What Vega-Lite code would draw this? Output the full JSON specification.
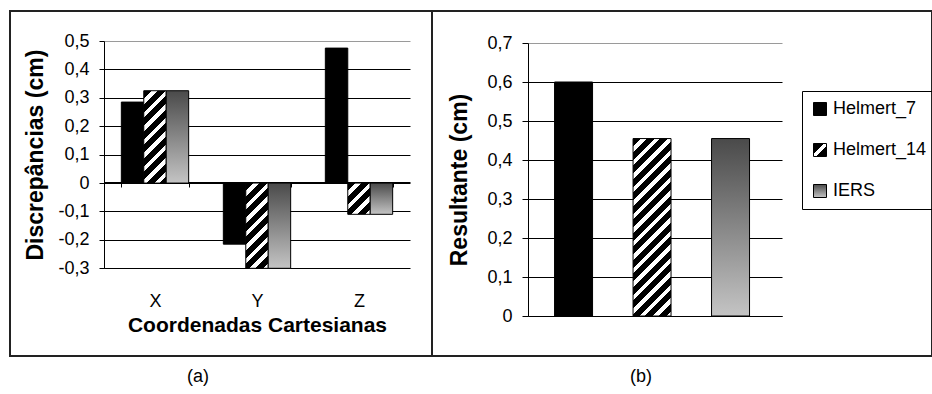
{
  "$schema": "https://vega.github.io/schema/vega-lite/v6.json",
  "background": "white",
  "padding": {"left": 9, "top": 10, "right": 0, "bottom": 0},
  "spacing": 0,
  "bounds": "flush",
  "resolve": {"scale": {"fill": "independent", "x": "independent", "y": "independent"}},
  "hconcat": [
    {
      "width": 422,
      "height": 345,
      "title": {"text": "(a)", "orient": "bottom", "anchor": "middle", "frame": "group", "dx": -23, "offset": 12, "fontSize": 18, "fontWeight": "normal", "font": "Liberation Sans", "color": "#000000"},
      "data": {"values": [
        {"coord": "X", "series": "Helmert_7", "value": 0.285},
        {"coord": "X", "series": "Helmert_14", "value": 0.325},
        {"coord": "X", "series": "IERS", "value": 0.325},
        {"coord": "Y", "series": "Helmert_7", "value": -0.215},
        {"coord": "Y", "series": "Helmert_14", "value": -0.3},
        {"coord": "Y", "series": "IERS", "value": -0.3},
        {"coord": "Z", "series": "Helmert_7", "value": 0.475},
        {"coord": "Z", "series": "Helmert_14", "value": -0.11},
        {"coord": "Z", "series": "IERS", "value": -0.11}
      ]},
      "mark": {"type": "bar", "stroke": "#000000", "strokeWidth": 1},
      "encoding": {
        "x": {"field": "coord", "type": "nominal",
          "scale": {"domain": ["X", "Y", "Z"], "range": [94, 400], "paddingInner": 0.34, "paddingOuter": 0.17},
          "axis": {"orient": "bottom", "offset": -174, "labelAngle": 0, "tickBand": "extent", "tickSize": 5, "labelPadding": 105, "labelFontSize": 18, "title": "Coordenadas Cartesianas", "titleFontSize": 21, "titlePadding": 4, "grid": false}},
        "xOffset": {"field": "series", "type": "nominal", "scale": {"domain": ["Helmert_7", "Helmert_14", "IERS"], "paddingInner": 0, "paddingOuter": 0}},
        "y": {"field": "value", "type": "quantitative",
          "scale": {"domain": [-0.3, 0.5], "range": [257.3, 30], "nice": false, "zero": false},
          "axis": {"orient": "left", "offset": -94, "values": [-0.3, -0.2, -0.1, 0, 0.1, 0.2, 0.3, 0.4, 0.5],
            "labelExpr": "datum.value == 0 ? '0' : (datum.value < 0 ? '-' : '') + replace(format(abs(datum.value), '.1f'), '.', ',')",
            "tickSize": 5, "labelPadding": 10, "minExtent": 48, "maxExtent": 48,
            "title": "Discrepâncias (cm)", "titleFontSize": 23, "titlePadding": 9, "grid": true,
            "gridColor": {"condition": {"test": "datum.value > 0.45", "value": "#9a9a9a"}, "value": "#000000"}}},
        "fill": {"field": "series", "type": "nominal",
          "scale": {"domain": ["Helmert_7", "Helmert_14", "IERS"], "range": ["#000000", "#777777", "#888888"]},
          "legend": null,
          "condition": [
            {"test": "datum.series === 'IERS'", "value": {"gradient": "linear", "x1": 0, "y1": 0, "x2": 0, "y2": 1, "stops": [{"offset": 0, "color": "#4a4a4a"}, {"offset": 1, "color": "#c4c4c4"}]}},
            {"test": "datum.series === 'Helmert_14' && datum.coord === 'X'", "value": {"gradient": "linear", "x1": 0, "y1": 0, "x2": 0.2853, "y2": 1.174, "stops": [
              {"offset": 0, "color": "#000000"}, {"offset": 0.0706, "color": "#000000"}, {"offset": 0.0706, "color": "#ffffff"}, {"offset": 0.1176, "color": "#ffffff"},
              {"offset": 0.1176, "color": "#000000"}, {"offset": 0.1882, "color": "#000000"}, {"offset": 0.1882, "color": "#ffffff"}, {"offset": 0.2353, "color": "#ffffff"},
              {"offset": 0.2353, "color": "#000000"}, {"offset": 0.3059, "color": "#000000"}, {"offset": 0.3059, "color": "#ffffff"}, {"offset": 0.3529, "color": "#ffffff"},
              {"offset": 0.3529, "color": "#000000"}, {"offset": 0.4235, "color": "#000000"}, {"offset": 0.4235, "color": "#ffffff"}, {"offset": 0.4706, "color": "#ffffff"},
              {"offset": 0.4706, "color": "#000000"}, {"offset": 0.5412, "color": "#000000"}, {"offset": 0.5412, "color": "#ffffff"}, {"offset": 0.5882, "color": "#ffffff"},
              {"offset": 0.5882, "color": "#000000"}, {"offset": 0.6588, "color": "#000000"}, {"offset": 0.6588, "color": "#ffffff"}, {"offset": 0.7059, "color": "#ffffff"},
              {"offset": 0.7059, "color": "#000000"}, {"offset": 0.7765, "color": "#000000"}, {"offset": 0.7765, "color": "#ffffff"}, {"offset": 0.8235, "color": "#ffffff"},
              {"offset": 0.8235, "color": "#000000"}, {"offset": 0.8941, "color": "#000000"}, {"offset": 0.8941, "color": "#ffffff"}, {"offset": 0.9412, "color": "#ffffff"},
              {"offset": 0.9412, "color": "#000000"}, {"offset": 1, "color": "#000000"}]}},
            {"test": "datum.series === 'Helmert_14' && datum.coord === 'Y'", "value": {"gradient": "linear", "x1": 0, "y1": 0, "x2": 0.3111, "y2": 1.1815, "stops": [
              {"offset": 0, "color": "#000000"}, {"offset": 0.0753, "color": "#000000"}, {"offset": 0.0753, "color": "#ffffff"}, {"offset": 0.1254, "color": "#ffffff"},
              {"offset": 0.1254, "color": "#000000"}, {"offset": 0.2007, "color": "#000000"}, {"offset": 0.2007, "color": "#ffffff"}, {"offset": 0.2508, "color": "#ffffff"},
              {"offset": 0.2508, "color": "#000000"}, {"offset": 0.3261, "color": "#000000"}, {"offset": 0.3261, "color": "#ffffff"}, {"offset": 0.3763, "color": "#ffffff"},
              {"offset": 0.3763, "color": "#000000"}, {"offset": 0.4515, "color": "#000000"}, {"offset": 0.4515, "color": "#ffffff"}, {"offset": 0.5017, "color": "#ffffff"},
              {"offset": 0.5017, "color": "#000000"}, {"offset": 0.5769, "color": "#000000"}, {"offset": 0.5769, "color": "#ffffff"}, {"offset": 0.6271, "color": "#ffffff"},
              {"offset": 0.6271, "color": "#000000"}, {"offset": 0.7024, "color": "#000000"}, {"offset": 0.7024, "color": "#ffffff"}, {"offset": 0.7525, "color": "#ffffff"},
              {"offset": 0.7525, "color": "#000000"}, {"offset": 0.8278, "color": "#000000"}, {"offset": 0.8278, "color": "#ffffff"}, {"offset": 0.8779, "color": "#ffffff"},
              {"offset": 0.8779, "color": "#000000"}, {"offset": 0.9532, "color": "#000000"}, {"offset": 0.9532, "color": "#ffffff"}, {"offset": 1, "color": "#ffffff"}]}},
            {"test": "datum.series === 'Helmert_14' && datum.coord === 'Z'", "value": {"gradient": "linear", "x1": 0, "y1": 0, "x2": 0.8139, "y2": 1.1336, "stops": [
              {"offset": 0, "color": "#000000"}, {"offset": 0.1509, "color": "#000000"}, {"offset": 0.1509, "color": "#ffffff"}, {"offset": 0.2514, "color": "#ffffff"},
              {"offset": 0.2514, "color": "#000000"}, {"offset": 0.4023, "color": "#000000"}, {"offset": 0.4023, "color": "#ffffff"}, {"offset": 0.5029, "color": "#ffffff"},
              {"offset": 0.5029, "color": "#000000"}, {"offset": 0.6538, "color": "#000000"}, {"offset": 0.6538, "color": "#ffffff"}, {"offset": 0.7543, "color": "#ffffff"},
              {"offset": 0.7543, "color": "#000000"}, {"offset": 0.9052, "color": "#000000"}, {"offset": 0.9052, "color": "#ffffff"}, {"offset": 1, "color": "#ffffff"}]}}
          ]}
      }
    },
    {
      "width": 500,
      "height": 345,
      "title": {"text": "(b)", "orient": "bottom", "anchor": "middle", "frame": "group", "dx": -41, "offset": 12, "fontSize": 18, "fontWeight": "normal", "font": "Liberation Sans", "color": "#000000"},
      "data": {"values": [
        {"series": "Helmert_7", "value": 0.6},
        {"series": "Helmert_14", "value": 0.455},
        {"series": "IERS", "value": 0.455}
      ]},
      "mark": {"type": "bar", "stroke": "#000000", "strokeWidth": 1},
      "encoding": {
        "x": {"field": "series", "type": "nominal",
          "scale": {"domain": ["Helmert_7", "Helmert_14", "IERS"], "range": [96, 350], "paddingInner": 0.516, "paddingOuter": 0.376, "align": 0.45},
          "axis": {"orient": "bottom", "offset": -40, "labels": false, "ticks": false, "title": null, "grid": false}},
        "y": {"field": "value", "type": "quantitative",
          "scale": {"domain": [0, 0.7], "range": [305, 32], "nice": false},
          "axis": {"orient": "left", "offset": -96, "values": [0, 0.1, 0.2, 0.3, 0.4, 0.5, 0.6, 0.7],
            "labelExpr": "datum.value == 0 ? '0' : replace(format(datum.value, '.1f'), '.', ',')",
            "tickSize": 6, "labelPadding": 10, "minExtent": 48, "maxExtent": 48,
            "title": "Resultante (cm)", "titleFontSize": 23, "titlePadding": 9, "grid": true,
            "gridColor": {"condition": {"test": "datum.value > 0.65", "value": "#9a9a9a"}, "value": "#000000"}}},
        "fill": {"field": "series", "type": "nominal",
          "scale": {"domain": ["Helmert_7", "Helmert_14", "IERS"], "range": [
            "#000000",
            {"expr": "{gradient: 'linear', x1: 0, y1: 0, x2: 1, y2: 1, stops: [{offset: 0, color: '#000000'}, {offset: 0.4, color: '#000000'}, {offset: 0.4, color: '#ffffff'}, {offset: 0.6, color: '#ffffff'}, {offset: 0.6, color: '#000000'}, {offset: 1, color: '#000000'}]}"},
            {"expr": "{gradient: 'linear', x1: 0, y1: 0, x2: 0, y2: 1, stops: [{offset: 0, color: '#4a4a4a'}, {offset: 1, color: '#c4c4c4'}]}"}
          ]},
          "legend": {"orient": "none", "legendX": 370, "legendY": 80, "title": null, "direction": "vertical",
            "strokeColor": "#000000", "padding": 9, "rowPadding": 23, "symbolType": "square", "symbolSize": 169,
            "symbolStrokeColor": "#000000", "symbolStrokeWidth": 1, "labelFont": "Liberation Sans", "labelFontSize": 18,
            "labelColor": "#000000", "labelOffset": 4},
          "condition": [
            {"test": "datum.series === 'IERS'", "value": {"gradient": "linear", "x1": 0, "y1": 0, "x2": 0, "y2": 1, "stops": [{"offset": 0, "color": "#4a4a4a"}, {"offset": 1, "color": "#c4c4c4"}]}},
            {"test": "datum.series === 'Helmert_14'", "value": {"gradient": "linear", "x1": 0, "y1": 0, "x2": 0.2486, "y2": 1.161, "stops": [
            {"offset": 0, "color": "#000000"}, {"offset": 0.0376, "color": "#000000"}, {"offset": 0.0376, "color": "#ffffff"}, {"offset": 0.0627, "color": "#ffffff"},
            {"offset": 0.0627, "color": "#000000"}, {"offset": 0.1003, "color": "#000000"}, {"offset": 0.1003, "color": "#ffffff"}, {"offset": 0.1253, "color": "#ffffff"},
            {"offset": 0.1253, "color": "#000000"}, {"offset": 0.1629, "color": "#000000"}, {"offset": 0.1629, "color": "#ffffff"}, {"offset": 0.1880, "color": "#ffffff"},
            {"offset": 0.1880, "color": "#000000"}, {"offset": 0.2256, "color": "#000000"}, {"offset": 0.2256, "color": "#ffffff"}, {"offset": 0.2506, "color": "#ffffff"},
            {"offset": 0.2506, "color": "#000000"}, {"offset": 0.2882, "color": "#000000"}, {"offset": 0.2882, "color": "#ffffff"}, {"offset": 0.3133, "color": "#ffffff"},
            {"offset": 0.3133, "color": "#000000"}, {"offset": 0.3509, "color": "#000000"}, {"offset": 0.3509, "color": "#ffffff"}, {"offset": 0.3759, "color": "#ffffff"},
            {"offset": 0.3759, "color": "#000000"}, {"offset": 0.4135, "color": "#000000"}, {"offset": 0.4135, "color": "#ffffff"}, {"offset": 0.4386, "color": "#ffffff"},
            {"offset": 0.4386, "color": "#000000"}, {"offset": 0.4762, "color": "#000000"}, {"offset": 0.4762, "color": "#ffffff"}, {"offset": 0.5013, "color": "#ffffff"},
            {"offset": 0.5013, "color": "#000000"}, {"offset": 0.5389, "color": "#000000"}, {"offset": 0.5389, "color": "#ffffff"}, {"offset": 0.5639, "color": "#ffffff"},
            {"offset": 0.5639, "color": "#000000"}, {"offset": 0.6015, "color": "#000000"}, {"offset": 0.6015, "color": "#ffffff"}, {"offset": 0.6266, "color": "#ffffff"},
            {"offset": 0.6266, "color": "#000000"}, {"offset": 0.6642, "color": "#000000"}, {"offset": 0.6642, "color": "#ffffff"}, {"offset": 0.6892, "color": "#ffffff"},
            {"offset": 0.6892, "color": "#000000"}, {"offset": 0.7268, "color": "#000000"}, {"offset": 0.7268, "color": "#ffffff"}, {"offset": 0.7519, "color": "#ffffff"},
            {"offset": 0.7519, "color": "#000000"}, {"offset": 0.7895, "color": "#000000"}, {"offset": 0.7895, "color": "#ffffff"}, {"offset": 0.8146, "color": "#ffffff"},
            {"offset": 0.8146, "color": "#000000"}, {"offset": 0.8522, "color": "#000000"}, {"offset": 0.8522, "color": "#ffffff"}, {"offset": 0.8772, "color": "#ffffff"},
            {"offset": 0.8772, "color": "#000000"}, {"offset": 0.9148, "color": "#000000"}, {"offset": 0.9148, "color": "#ffffff"}, {"offset": 0.9399, "color": "#ffffff"},
            {"offset": 0.9399, "color": "#000000"}, {"offset": 0.9775, "color": "#000000"}, {"offset": 0.9775, "color": "#ffffff"}, {"offset": 1, "color": "#ffffff"}]}}
          ]
        }
      }
    }
  ],
  "config": {
    "view": {"stroke": "#222222", "strokeWidth": 2},
    "font": "Liberation Sans",
    "axis": {"labelFont": "Liberation Sans", "titleFont": "Liberation Sans", "labelColor": "#000000", "titleColor": "#000000",
      "domainColor": "#000000", "tickColor": "#000000", "gridOpacity": 1, "gridWidth": 1, "labelFontSize": 18, "titleFontWeight": "bold"}
  }
}
